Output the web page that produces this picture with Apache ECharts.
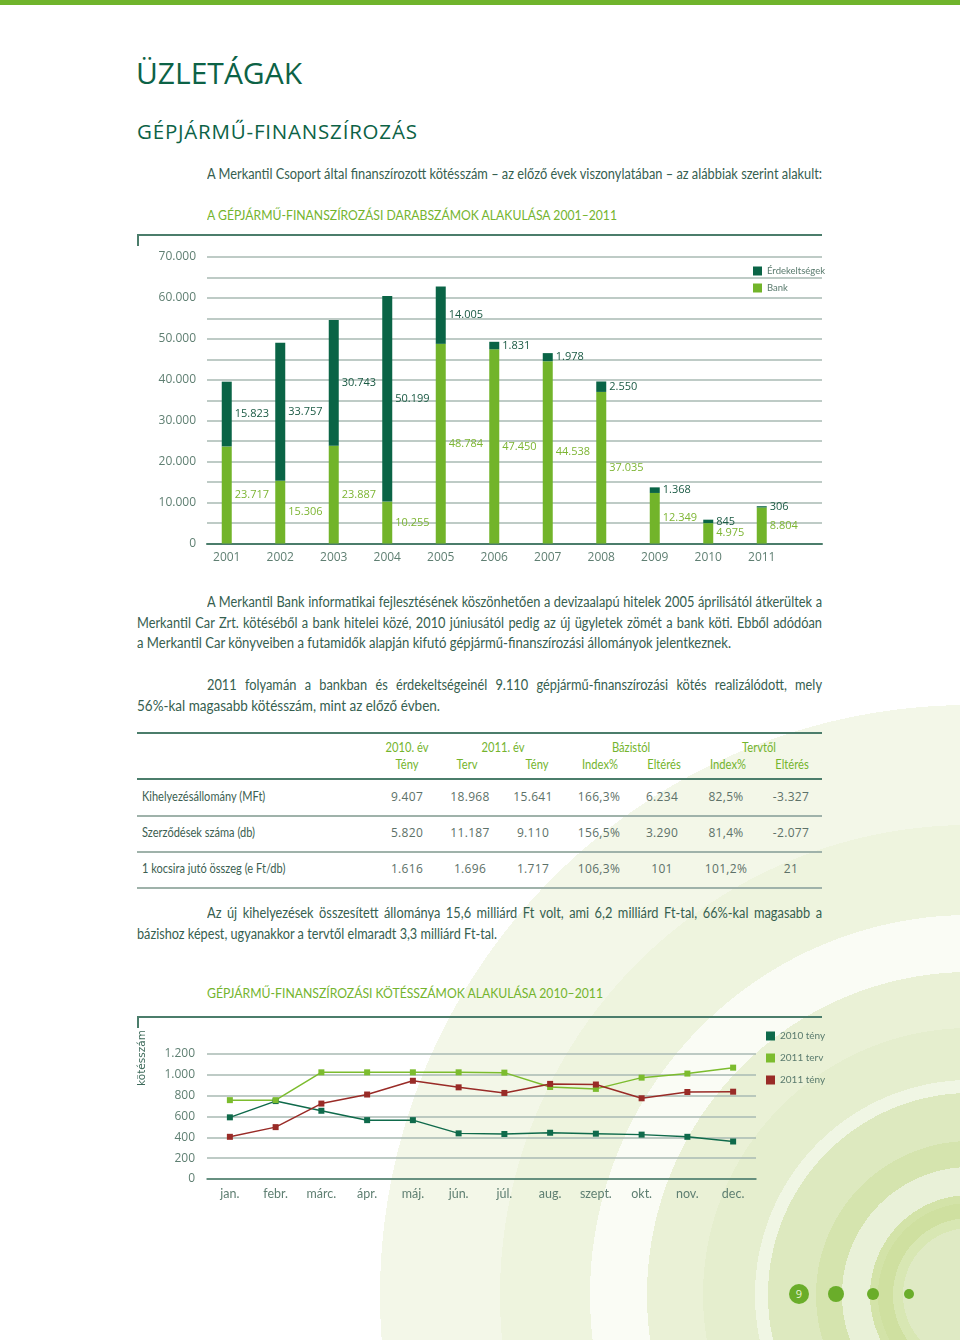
<!DOCTYPE html>
<html><head><meta charset="utf-8">
<script src="https://cdn.jsdelivr.net/npm/echarts@6/dist/echarts.min.js"></script>
<style>
html,body{margin:0;padding:0;background:#fff;}
#page{position:relative;width:960px;height:1340px;overflow:hidden;background:#fff;}
#bg{position:absolute;left:0;top:0;width:960px;height:1340px;
background:radial-gradient(circle at 970px 1295px,#dfeac4 0 67px,#d8e7b3 67px 77px,#cfe0a0 77px 92px,#d3e3a8 92px 100px,#e9f1d8 100px 128px,#d5e4ae 128px 154px,#dde9bf 154px 202px,#f0f6e4 202px 215px,#e5eece 215px 267px,#eaf1d6 267px 323px,#fafcf5 323px 380px,#eef4de 380px 470px,#f3f7e8 470px 590px,#ffffff 590px);}
.abs{position:absolute;white-space:nowrap;}
.nar{font-family:Lato,'Open Sans',sans-serif;transform-origin:0 0;}
.os{font-family:'Open Sans',sans-serif;}
.body{color:#36604f;font-size:14.5px;line-height:20.5px;}
.jl{text-align:justify;text-align-last:justify;}
.rule{position:absolute;background:#4b7d6b;}
.rowrule{position:absolute;background:#9fb2aa;height:1.5px;}
.th{color:#74b42e;font-size:13px;line-height:16px;}
.td{color:#5d7168;font-size:12px;line-height:16px;letter-spacing:0.3px;}
.dot{position:absolute;border-radius:50%;background:#6aad2a;}
#c1{position:absolute;left:0;top:225px;width:960px;height:360px;}
#c2{position:absolute;left:0;top:1010px;width:960px;height:210px;}
</style></head>
<body>
<div id="page">
<div id="bg"></div>
<div class="abs" style="left:0;top:0;width:960px;height:5px;background:#70b42c;"></div>

<div class="abs os" style="left:136px;top:55px;font-size:30px;line-height:36px;color:#0c6246;">ÜZLETÁGAK</div>
<div class="abs os" style="left:137px;top:119px;font-size:20.5px;line-height:24px;letter-spacing:0.8px;color:#0c6246;">GÉPJÁRMŰ-FINANSZÍROZÁS</div>

<div id="intro" class="abs nar body" style="left:207px;top:164px;">A Merkantil Csoport által finanszírozott kötésszám – az előző évek viszonylatában – az alábbiak szerint alakult:</div>
<div class="abs nar" data-fit="410" style="left:207px;top:207px;font-size:13.5px;line-height:16px;color:#74b42e;">A GÉPJÁRMŰ-FINANSZÍROZÁSI DARABSZÁMOK ALAKULÁSA 2001–2011</div>

<div class="rule" style="left:137px;top:234px;width:685px;height:2px;"></div>
<div class="rule" style="left:137px;top:234px;width:2px;height:12px;"></div>

<div id="c1"></div>

<div class="abs nar body jl" data-just="615" style="left:207px;top:592px;">A Merkantil Bank informatikai fejlesztésének köszönhetően a devizaalapú hitelek 2005 áprilisától átkerültek a</div>
<div class="abs nar body jl" data-just="685" style="left:137px;top:612.5px;">Merkantil Car Zrt. kötéséből a bank hitelei közé, 2010 júniusától pedig az új ügyletek zömét a bank köti. Ebből adódóan</div>
<div class="abs nar body" data-fit="594" style="left:137px;top:633px;">a Merkantil Car könyveiben a futamidők alapján kifutó gépjármű-finanszírozási állományok jelentkeznek.</div>

<div class="abs nar body jl" data-just="615" style="left:207px;top:675px;">2011 folyamán a bankban és érdekeltségeinél 9.110 gépjármű-finanszírozási kötés realizálódott, mely</div>
<div class="abs nar body" data-fit="303" style="left:137px;top:695.5px;">56%-kal magasabb kötésszám, mint az előző évben.</div>

<div id="table"></div>

<div class="abs nar body jl" data-just="615" style="left:207px;top:903px;">Az új kihelyezések összesített állománya 15,6 milliárd Ft volt, ami 6,2 milliárd Ft-tal, 66%-kal magasabb a</div>
<div class="abs nar body" data-fit="360" style="left:137px;top:923.5px;">bázishoz képest, ugyanakkor a tervtől elmaradt 3,3 milliárd Ft-tal.</div>

<div class="abs nar" data-fit="396" style="left:207px;top:985px;font-size:13.5px;line-height:16px;color:#74b42e;">GÉPJÁRMŰ-FINANSZÍROZÁSI KÖTÉSSZÁMOK ALAKULÁSA 2010–2011</div>
<div class="rule" style="left:137px;top:1016px;width:685px;height:2px;"></div>
<div class="rule" style="left:137px;top:1016px;width:2px;height:12px;"></div>

<div id="c2"></div>

<div class="dot" style="left:789px;top:1284px;width:20px;height:20px;"></div>
<div class="abs os" style="left:789px;top:1284px;width:20px;line-height:20px;text-align:center;font-size:11px;color:#e8f3d6;">9</div>
<div class="dot" style="left:828px;top:1286px;width:16px;height:16px;"></div>
<div class="dot" style="left:867px;top:1288px;width:12px;height:12px;"></div>
<div class="dot" style="left:904px;top:1289px;width:10px;height:10px;"></div>
</div>

<script>
// ---------- Data ----------
const years = ['2001','2002','2003','2004','2005','2006','2007','2008','2009','2010','2011'];
const bankValues = [23717, 15306, 23887, 10255, 48784, 47450, 44538, 37035, 12349, 4975, 8804];
const erdekeltsegValues = [15823, 33757, 30743, 50199, 14005, 1831, 1978, 2550, 1368, 845, 306];

const months = ['jan.','febr.','márc.','ápr.','máj.','jún.','júl.','aug.','szept.','okt.','nov.','dec.'];
const teny2010 = [592, 748, 655, 565, 565, 438, 432, 444, 435, 426, 405, 360];
const terv2011 = [757, 757, 1024, 1024, 1024, 1024, 1021, 883, 865, 973, 1012, 1069];
const teny2011 = [405, 498, 724, 811, 943, 880, 826, 913, 907, 775, 835, 838];

const tableRowLabels = ['Kihelyezésállomány (MFt)', 'Szerződések száma (db)', '1 kocsira jutó összeg (e Ft/db)'];
const col2010Teny = ['9.407', '5.820', '1.616'];
const col2011Terv = ['18.968', '11.187', '1.696'];
const col2011Teny = ['15.641', '9.110', '1.717'];
const colBazisIndex = ['166,3%', '156,5%', '106,3%'];
const colBazisElteres = ['6.234', '3.290', '101'];
const colTervIndex = ['82,5%', '81,4%', '101,2%'];
const colTervElteres = ['-3.327', '-2.077', '21'];

// ---------- Condensed text fitting ----------
const intro = document.getElementById('intro');
const S = Math.min(1, 615 / intro.getBoundingClientRect().width);
intro.style.transform = 'scaleX(' + S + ')';
document.querySelectorAll('[data-fit]').forEach(el => {
  const w = el.getBoundingClientRect().width;
  el.style.transform = 'scaleX(' + (+el.dataset.fit / w) + ')';
});
document.querySelectorAll('[data-just]').forEach(el => {
  const W = +el.dataset.just;
  const nat = el.getBoundingClientRect().width;
  let s = S;
  if (nat * s > W) s = W / nat;
  el.style.width = (W / s) + 'px';
  el.style.transform = 'scaleX(' + s + ')';
});

// ---------- Table ----------
(function(){
  const t = document.getElementById('table');
  let h = '';
  const put = (cls, x, cy, text, sc) => {
    h += '<div class="abs ' + cls + '" style="left:' + x + 'px;top:' + (cy - 8) + 'px;transform-origin:50% 50%;transform:translateX(-50%)' + (sc ? ' scaleX(' + sc + ')' : '') + ';">' + text + '</div>';
  };
  h += '<div class="rule" style="left:137px;top:732px;width:685px;height:2px;"></div>';
  h += '<div class="rule" style="left:137px;top:778px;width:685px;height:2px;"></div>';
  [815, 851, 887].forEach(y => { h += '<div class="rowrule" style="left:137px;top:' + y + 'px;width:685px;"></div>'; });
  const hs = 0.86;
  put('nar th', 407, 747, '2010. év', hs);
  put('nar th', 407, 764, 'Tény', hs);
  put('nar th', 503, 747, '2011. év', hs);
  put('nar th', 467, 764, 'Terv', hs);
  put('nar th', 537, 764, 'Tény', hs);
  put('nar th', 631, 747, 'Bázistól', hs);
  put('nar th', 600, 764, 'Index%', hs);
  put('nar th', 664, 764, 'Eltérés', hs);
  put('nar th', 759, 747, 'Tervtől', hs);
  put('nar th', 728, 764, 'Index%', hs);
  put('nar th', 792, 764, 'Eltérés', hs);
  const cols = [col2010Teny, col2011Terv, col2011Teny, colBazisIndex, colBazisElteres, colTervIndex, colTervElteres];
  const cx = [407, 470, 533, 599, 662, 726, 791];
  const rowY = [797, 833, 869];
  tableRowLabels.forEach((lab, i) => {
    h += '<div class="abs nar" style="left:142px;top:' + (rowY[i] - 8) + 'px;font-size:12.5px;line-height:16px;color:#3d5f52;transform:scaleX(' + S + ');">' + lab + '</div>';
    cols.forEach((c, j) => put('os td', cx[j], rowY[i], c[i], 0));
  });
  t.innerHTML = h;
})();

// ---------- Charts ----------
const fmt = v => String(v).replace(/\B(?=(\d{3})+(?!\d))/g, '.');
const NUM = "'Open Sans', sans-serif";
const NAR = "Lato, sans-serif";
const AXC = '#5f7f72';

const c1 = echarts.init(document.getElementById('c1'), null, {renderer: 'canvas'});
c1.setOption({
  animation: false,
  legend: {
    data: ['Érdekeltségek', 'Bank'], orient: 'vertical', left: 748, top: 36,
    itemWidth: 9, itemHeight: 9, itemGap: 7, icon: 'rect',
    textStyle: {fontFamily: NAR, fontSize: 9.5, color: '#5a7b6e'}
  },
  grid: [
    {left: 207, right: 138, top: 32, height: 286.5},
    {left: 200, width: 588.5, top: 32, height: 286.5}
  ],
  xAxis: [
    {gridIndex: 0, type: 'value', min: 0, max: 1,
     axisLine: {show: true, onZero: false, lineStyle: {color: '#4b7d6b', width: 2}},
     axisTick: {show: false}, axisLabel: {show: false}, splitLine: {show: false}},
    {gridIndex: 1, type: 'category', data: years,
     axisLine: {show: false}, axisTick: {show: false},
     axisLabel: {color: AXC, fontSize: 12, fontFamily: NUM, margin: 8}}
  ],
  yAxis: [
    {gridIndex: 0, type: 'value', min: 0, max: 70000, interval: 5000,
     axisLine: {show: false}, axisTick: {show: false},
     axisLabel: {margin: 11, color: AXC, fontSize: 12, fontFamily: NUM,
                 formatter: v => (v % 10000 === 0 ? fmt(v) : '')},
     splitLine: {lineStyle: {color: '#a9bab3', width: 1.5}}},
    {gridIndex: 1, type: 'value', min: 0, max: 70000, show: false, splitLine: {show: false}}
  ],
  series: [
    {name: 'Bank', type: 'bar', xAxisIndex: 1, yAxisIndex: 1, stack: 'total',
     data: bankValues, barWidth: 10, itemStyle: {color: '#72b42a'},
     label: {show: true, position: 'right', distance: 3, color: '#7db533',
             fontFamily: NUM, fontSize: 11, formatter: p => fmt(p.value)}},
    {name: 'Érdekeltségek', type: 'bar', xAxisIndex: 1, yAxisIndex: 1, stack: 'total',
     data: erdekeltsegValues, barWidth: 10, itemStyle: {color: '#0a6446'},
     label: {show: true, position: 'right', distance: 3, color: '#1b5a44',
             fontFamily: NUM, fontSize: 11, formatter: p => fmt(p.value)}}
  ]
});

const c2 = echarts.init(document.getElementById('c2'), null, {renderer: 'canvas'});
const lineSeries = (name, data, color) => ({
  name, type: 'line', data, symbol: 'rect', symbolSize: 6,
  lineStyle: {color, width: 1.5}, itemStyle: {color}
});
c2.setOption({
  animation: false,
  legend: {
    data: ['2010 tény', '2011 terv', '2011 tény'], orient: 'vertical', left: 761, top: 16,
    itemWidth: 9, itemHeight: 9, itemGap: 12, icon: 'rect',
    textStyle: {fontFamily: NAR, fontSize: 10, color: '#5a7b6e'}
  },
  grid: {left: 207, width: 549, top: 44, height: 125},
  xAxis: {
    type: 'category', data: months,
    axisLine: {lineStyle: {color: '#4b7d6b', width: 1.5}},
    axisTick: {inside: true, length: 6, lineStyle: {color: '#4b7d6b'}},
    axisLabel: {color: AXC, fontSize: 12.5, fontFamily: NAR, margin: 8}
  },
  yAxis: {
    type: 'value', min: 0, max: 1200, interval: 200,
    axisLine: {show: false}, axisTick: {show: false},
    axisLabel: {margin: 12, color: AXC, fontSize: 12, fontFamily: NUM, formatter: v => fmt(v)},
    splitLine: {lineStyle: {color: '#a9bab3', width: 1.5}}
  },
  graphic: [{
    type: 'text', x: 142, y: 48, rotation: Math.PI / 2,
    style: {text: 'kötésszám', fill: '#3d6a5a', font: "10.5px 'DejaVu Sans', sans-serif",
            textAlign: 'center', textVerticalAlign: 'middle'}
  }],
  series: [
    lineSeries('2010 tény', teny2010, '#0f6a4b'),
    lineSeries('2011 terv', terv2011, '#7cbc2e'),
    lineSeries('2011 tény', teny2011, '#992b27')
  ]
});
</script>
</body></html>
